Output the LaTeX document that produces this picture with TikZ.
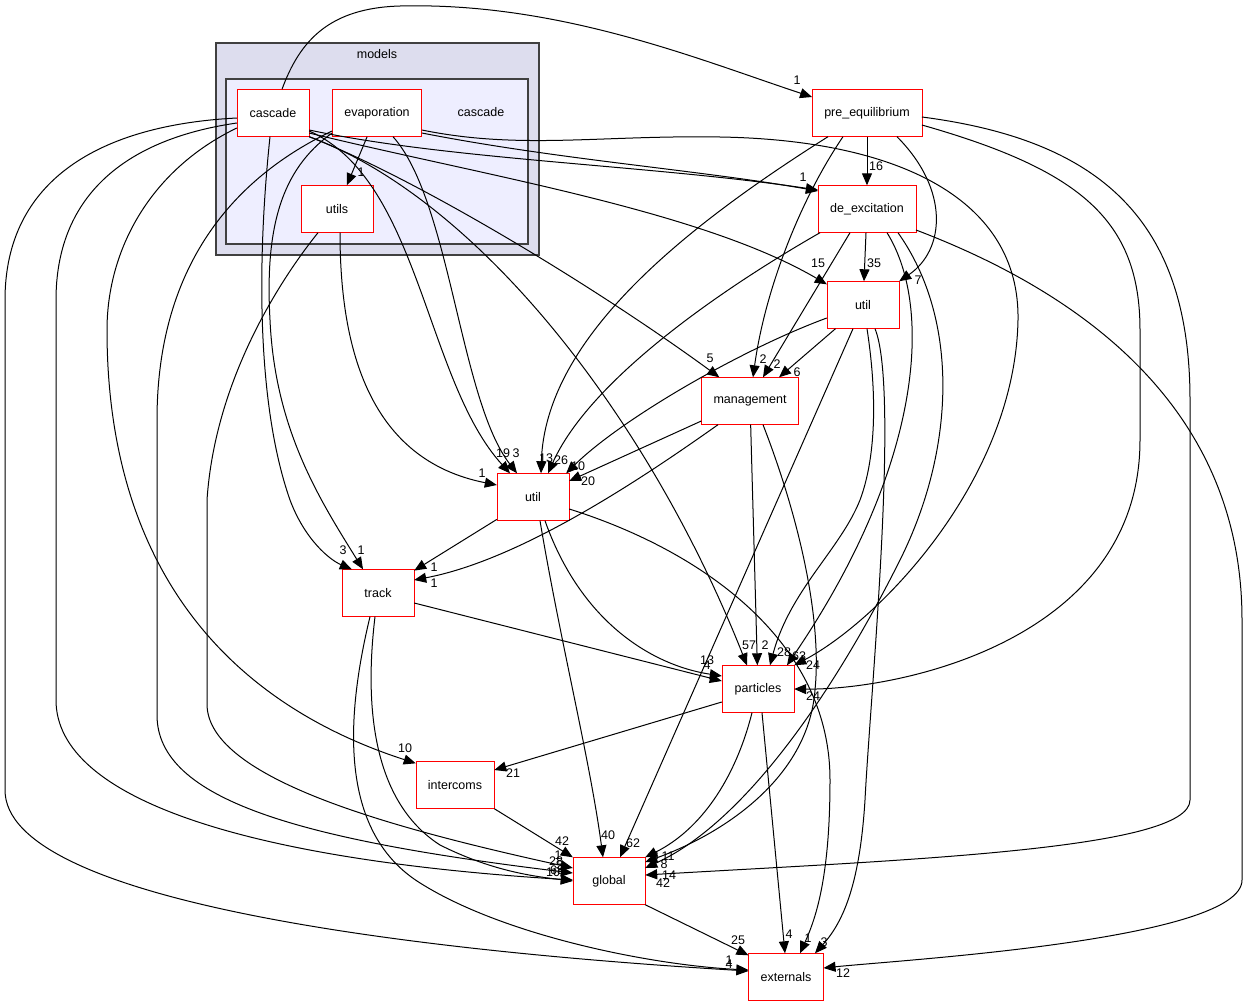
\documentclass[tikz,border=0pt]{standalone}
\usepackage{fontspec}
\setmainfont{Liberation Sans}
\usetikzlibrary{arrows.meta}

\begin{document}
\begin{tikzpicture}[x=1pt,y=-1pt]
    \tikzstyle{dirbox}=[rectangle, draw=red, fill=white, minimum width=72pt, minimum height=47pt, inner xsep=12pt]
    \tikzstyle{every node}=[font=\fontsize{12.5}{14}\selectfont]
    \tikzstyle{dep}=[-{Triangle[length=12pt,width=10pt]}, line width=1pt]
    \tikzstyle{num}=[inner sep=0pt]

    \useasboundingbox (0,0) rectangle (1248,1007);

    % clusters
    \filldraw[fill={rgb,255:red,221;green,221;blue,238}, draw=black!75, line width=1.5pt] (216,43) rectangle (539,255);
    \filldraw[fill={rgb,255:red,238;green,238;blue,255}, draw=black!75, line width=1.5pt] (226,79) rectangle (528,244);
    \node (models) at (377,54) {models};
    \node (cluster) at (481,112) {cascade};

    % directories
    \node[dirbox] (cascade) at (273,113) {cascade};
    \node[dirbox] (evap) at (377,113) {evaporation};
    \node[dirbox] (utils) at (337,209) {utils};
    \node[dirbox] (pre) at (867,113) {pre\_equilibrium};
    \node[dirbox] (dex) at (867,209) {de\_excitation};
    \node[dirbox] (utilt) at (863,305) {util};
    \node[dirbox] (mgmt) at (750,401) {management};
    \node[dirbox] (utilm) at (533,497) {util};
    \node[dirbox] (track) at (378,593) {track};
    \node[dirbox] (part) at (758,689) {particles};
    \node[dirbox] (inter) at (455,785) {intercoms};
    \node[dirbox] (global) at (609,881) {global};
    \node[dirbox] (ext) at (786,977) {externals};

    % from cascade
    \draw[dep] ([xshift=9pt]cascade.north) .. controls (300,40) and (330,8) .. (400,6) .. controls (560,2) and (700,60) .. ([yshift=16pt]pre.west);
    \node[num] (l1) at (797,80) {1};
    \draw[dep] ([yshift=-17pt]cascade.east) .. controls (450,160) and (650,165) .. ([yshift=19pt]dex.west);
    \draw[dep] ([yshift=-20pt]evap.east) .. controls (560,160) and (700,170) .. ([yshift=18pt]dex.west);
    \node[num] (l2) at (803,177) {1};
    \draw[dep] ([yshift=-20pt]cascade.east) .. controls (480,175) and (700,210) .. ([yshift=-3pt]utilt.north west);
    \node[num] (l3) at (818,263) {15};
    \draw[dep] (cascade.south east) .. controls (420,180) and (600,290) .. ([xshift=18pt]mgmt.north west);
    \node[num] (l4) at (710,358) {5};
    \draw[dep] (cascade.south east) .. controls (480,200) and (650,420) .. ([xshift=-11pt]part.north);
    \node[num] (l5) at (749,645) {57};
    \draw[dep] ([yshift=-18pt]cascade.east) .. controls (420,180) and (425,380) .. ([xshift=-23pt]utilm.north);
    \node[num] (l6) at (503,453) {19};
    \draw[dep] ([xshift=16pt]evap.south) .. controls (450,200) and (460,400) .. ([xshift=-16pt]utilm.north);
    \node[num] (l7) at (516,453) {3};
    \draw[dep] ([xshift=-3pt]cascade.south) .. controls (258,250) and (255,400) .. (290,500) .. controls (305,540) and (330,560) .. ([xshift=10pt]track.north west);
    \node[num] (l8) at (343,550) {3};
    \draw[dep] ([yshift=-20pt]evap.west) .. controls (280,170) and (265,230) .. (270,320) .. controls (275,430) and (320,500) .. ([xshift=-15pt]track.north);
    \node[num] (l9) at (361,550) {1};
    \draw[dep] ([yshift=-5pt]cascade.west) .. controls (100,125) and (5,180) .. (5,300) -- (5,790) .. controls (5,900) and (400,950) .. ([yshift=6pt]ext.west);
    \node[num] (l10) at (729,960) {1};
    \node[num] (l11) at (729,964) {4};
    \draw[dep] ([yshift=-10pt]cascade.west) .. controls (120,140) and (56,200) .. (56,300) -- (56,700) .. controls (56,800) and (250,860) .. ([yshift=1pt]global.west);
    \node[num] (l12) at (553,872) {10};
    \draw[dep] ([yshift=-15pt]cascade.west) .. controls (150,170) and (107,250) .. (107,330) .. controls (107,560) and (220,700) .. ([yshift=-2pt]inter.north west);
    \node[num] (l13) at (405,748) {10};

    % from evaporation and utils
    \draw[dep] ([yshift=-18pt]evap.west) .. controls (250,170) and (157,250) .. (157,420) -- (157,715) .. controls (157,800) and (300,840) .. ([yshift=8pt]global.west);
    \node[num] (l14) at (556,861) {28};
    \draw[dep] ([xshift=-19pt]utils.south) .. controls (280,280) and (215,380) .. (207,500) -- (207,704) .. controls (207,780) and (400,830) .. ([yshift=13pt]global.west);
    \node[num] (l15) at (560,865) {5};
    \node[num] (l16) at (558,855) {1};
    \draw[dep] ([xshift=3pt]utils.south) .. controls (340,350) and (370,460) .. ([yshift=12pt]utilm.west);
    \node[num] (l17) at (482,473) {1};
    \draw[dep] (evap) -- (utils);
    \node[num] (l18) at (361,172) {1};
    \draw[dep] ([yshift=-17pt]evap.east) .. controls (520,150) and (600,135) .. (720,137) .. controls (900,140) and (1020,200) .. (1018,320) .. controls (1015,480) and (880,620) .. (part.north east);
    \node[num] (l19) at (813,665) {24};

    % from pre_equilibrium
    \draw[dep] (pre) -- (dex);
    \node[num] (l20) at (876,166) {16};
    \draw[dep] ([xshift=30pt]pre.south) .. controls (950,190) and (945,250) .. (utilt.north east);
    \node[num] (l21) at (918,280) {7};
    \draw[dep] ([xshift=-24pt]pre.south) .. controls (800,200) and (765,290) .. ([xshift=3pt]mgmt.north);
    \node[num] (l22) at (763,359) {2};
    \draw[dep] ([xshift=-39pt]pre.south) .. controls (680,230) and (545,340) .. ([xshift=8pt]utilm.north);
    \node[num] (l23) at (546,458) {13};
    \draw[dep] ([yshift=-12pt]pre.east) .. controls (1080,170) and (1140,220) .. (1140,330) -- (1140,440) .. controls (1140,640) and (900,690) .. (part.east);
    \node[num] (l24) at (813,696) {24};
    \draw[dep] ([yshift=-4pt]pre.east) .. controls (1100,140) and (1190,220) .. (1190,400) -- (1190,800) .. controls (1190,850) and (900,860) .. ([yshift=6pt]global.east);
    \node[num] (l25) at (663,883) {42};
    \node[num] (l26) at (669,875) {14};

    % from de_excitation
    \draw[dep] ([xshift=-17pt]dex.south) -- ([xshift=13pt]mgmt.north);
    \node[num] (l27) at (777,364) {2};
    \draw[dep] ([xshift=-47pt]dex.south) .. controls (720,290) and (590,380) .. ([xshift=15pt]utilm.north);
    \node[num] (l28) at (561,460) {26};
    \draw[dep] (dex) -- (utilt);
    \node[num] (l29) at (874,263) {35};
    \draw[dep] ([xshift=20pt]dex.south) .. controls (935,310) and (920,470) .. ([xshift=29pt]part.north);
    \node[num] (l30) at (799,656) {63};
    \draw[dep] ([xshift=31pt]dex.south) .. controls (960,320) and (955,450) .. (900,560) .. controls (840,680) and (750,820) .. ([yshift=13pt]global.east);
    \node[num] (l31) at (664,864) {8};
    \draw[dep] ([yshift=-21pt]dex.east) .. controls (1100,300) and (1242,420) .. (1242,620) -- (1242,880) .. controls (1242,940) and (900,960) .. ([yshift=9pt]ext.east);
    \node[num] (l32) at (843,973) {12};

    % from util (top)
    \draw[dep] (utilt) -- ([xshift=29pt]mgmt.north);
    \node[num] (l33) at (797,372) {6};
    \draw[dep] ([yshift=-13pt]utilt.west) .. controls (740,350) and (620,420) .. ([xshift=-3pt]utilm.north east);
    \node[num] (l34) at (578,466) {10};
    \draw[dep] ([xshift=4pt]utilt.south) .. controls (878,400) and (875,460) .. (860,500) .. controls (840,550) and (790,590) .. ([xshift=12pt]part.north);
    \node[num] (l35) at (784,652) {28};
    \draw[dep] ([xshift=-10pt]utilt.south) -- ([xshift=11pt]global.north);
    \node[num] (l36) at (633,843) {62};
    \draw[dep] ([xshift=12pt]utilt.south) .. controls (900,390) and (870,700) .. (865,800) .. controls (860,880) and (845,920) .. ([xshift=29pt]ext.north);
    \node[num] (l37) at (824,942) {3};

    % from management
    \draw[dep] ([yshift=-20pt]mgmt.west) -- ([yshift=16pt]utilm.east);
    \node[num] (l38) at (588,481) {20};
    \draw[dep] (mgmt) -- (part);
    \node[num] (l39) at (765,645) {2};
    \draw[dep] ([xshift=13pt]mgmt.south) .. controls (800,520) and (822,620) .. (815,690) .. controls (808,780) and (720,835) .. ([yshift=19pt]global.east);
    \node[num] (l40) at (655,856) {3};
    \draw[dep] ([xshift=-32pt]mgmt.south) .. controls (640,480) and (520,560) .. ([yshift=13pt]track.east);
    \node[num] (l41) at (434,583) {1};

    % from util (middle)
    \draw[dep] (utilm) -- (track);
    \node[num] (l42) at (434,567) {1};
    \draw[dep] ([xshift=7pt]utilm.south) .. controls (560,640) and (590,760) .. ([xshift=-6pt]global.north);
    \node[num] (l43) at (608,835) {40};
    \draw[dep] ([xshift=12pt]utilm.south) .. controls (580,620) and (650,665) .. ([yshift=13pt]part.west);
    \node[num] (l44) at (707,660) {13};
    \draw[dep] ([yshift=-12pt]utilm.east) .. controls (700,550) and (830,640) .. (830,780) .. controls (830,880) and (815,920) .. ([xshift=14pt]ext.north);
    \node[num] (l45) at (808,938) {1};

    % from track
    \draw[dep] ([yshift=-10pt]track.east) -- ([yshift=8pt]part.west);
    \node[num] (l46) at (707,665) {4};
    \draw[dep] ([xshift=-3pt]track.south) .. controls (365,700) and (370,800) .. (440,845) .. controls (490,870) and (530,876) .. (global.west);
    \node[num] (l47) at (557,870) {68};
    \draw[dep] ([xshift=-8pt]track.south) .. controls (345,720) and (340,830) .. (417,881) .. controls (500,935) and (650,965) .. ([yshift=7pt]ext.west);

    % from particles, intercoms, global
    \draw[dep] ([yshift=-13pt]part.west) -- ([yshift=15pt]inter.east);
    \node[num] (l48) at (513,773) {21};
    \draw[dep] ([xshift=-6pt]part.south) .. controls (735,780) and (700,830) .. (global.north east);
    \node[num] (l49) at (668,856) {11};
    \draw[dep] ([xshift=4pt]part.south) -- ([xshift=-1pt]ext.north);
    \node[num] (l50) at (789,934) {4};
    \draw[dep] (inter.south east) -- (global.north west);
    \node[num] (l51) at (562,841) {42};
    \draw[dep] (global.south east) -- ([yshift=-2pt]ext.north west);
    \node[num] (l52) at (738,940) {25};
\end{tikzpicture}
\end{document}
